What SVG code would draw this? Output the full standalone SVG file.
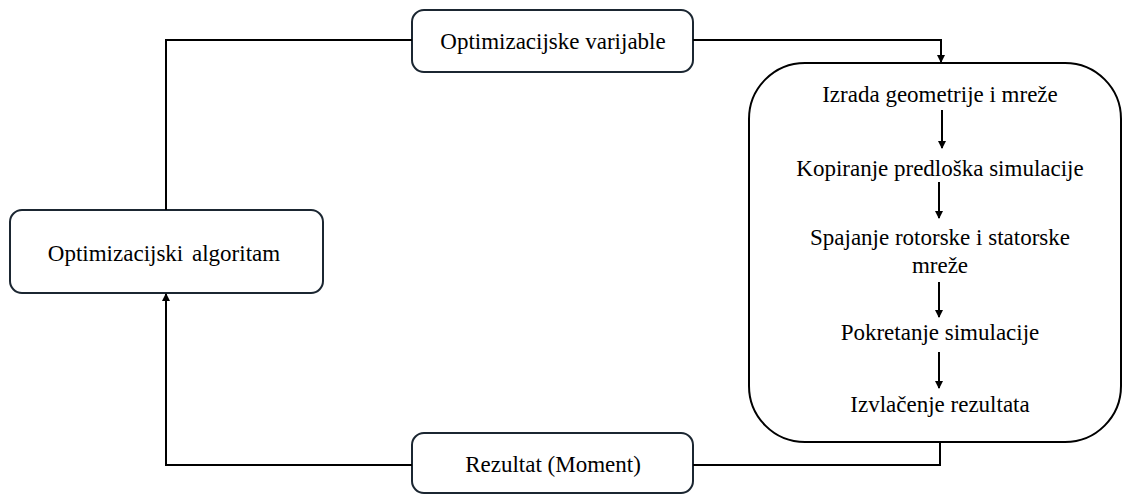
<svg xmlns="http://www.w3.org/2000/svg" width="1123" height="494" viewBox="0 0 1123 494">
<style>
.box{fill:#fff;stroke:#1b2631;stroke-width:2}
.big{fill:#fff;stroke:#000;stroke-width:2}
.ln{fill:none;stroke:#000;stroke-width:2}
</style>
<defs>
<marker id="ah" markerWidth="8" markerHeight="10" refX="7" refY="5" orient="auto" markerUnits="userSpaceOnUse" viewBox="0 0 8 10">
<path d="M0,1 L8,5 L0,9 z" fill="#000"/>
</marker>
</defs>
<g font-family="Liberation Serif, serif" font-size="23" fill="#000" text-anchor="middle">
<g id="n-vars">
<rect class="box" x="412" y="10" width="281" height="62" rx="12"/>
<text x="553" y="49">Optimizacijske varijable</text>
</g>
<g id="n-algo">
<rect class="box" x="10" y="210" width="313" height="83" rx="12"/>
<text x="164" y="261" word-spacing="3">Optimizacijski algoritam</text>
</g>
<g id="n-result">
<rect class="box" x="412" y="433" width="281" height="60" rx="12"/>
<text x="553" y="472">Rezultat (Moment)</text>
</g>
<g id="n-process">
<rect class="big" x="749" y="63" width="372" height="379" rx="56"/>
<text x="940" y="102">Izrada geometrije i mreže</text>
<text x="940" y="176">Kopiranje predloška simulacije</text>
<text x="940" y="245">Spajanje rotorske i statorske</text>
<text x="940" y="273">mreže</text>
<text x="940" y="340">Pokretanje simulacije</text>
<text x="940" y="412">Izvlačenje rezultata</text>
</g>
</g>
<g id="connectors">
<path class="ln" d="M412,40 H166 V210"/>
<path class="ln" d="M693,40 H941 V62" marker-end="url(#ah)"/>
<path class="ln" d="M940,442 V465 H693"/>
<path class="ln" d="M412,465 H166 V294" marker-end="url(#ah)"/>
<path class="ln" d="M942,110 V148" marker-end="url(#ah)"/>
<path class="ln" d="M939,182 V218" marker-end="url(#ah)"/>
<path class="ln" d="M939,282 V317" marker-end="url(#ah)"/>
<path class="ln" d="M939,352 V388" marker-end="url(#ah)"/>
</g>
</svg>
